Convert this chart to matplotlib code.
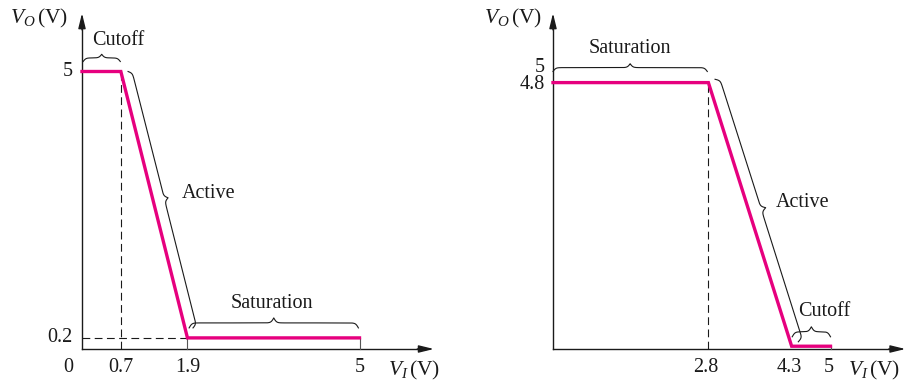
import numpy as np
import matplotlib
matplotlib.use("Agg")
import matplotlib.pyplot as plt

plt.rcParams["font.family"] = ["Liberation Serif", "DejaVu Serif"]
plt.rcParams["mathtext.fontset"] = "custom"
plt.rcParams["mathtext.rm"] = "Liberation Serif"
plt.rcParams["mathtext.it"] = "Liberation Serif:italic"

# Transfer characteristics (V_I, V_O) for the two inverters
npn_vi = [0.0, 0.7, 1.9, 5.0]
npn_vo = [5.0, 5.0, 0.2, 0.2]
npn_xticks = ["0", "0.7", "1.9", "5"]
npn_yticks = ["5", "0.2"]

pnp_vi = [0.0, 2.8, 4.3, 5.0]
pnp_vo = [4.8, 4.8, 0.05, 0.05]
pnp_xticks = ["2.8", "4.3", "5"]
pnp_yticks = ["5", "4.8"]

PINK = "#E6007E"
INK = "#1a1a1a"
FS = 14.5
FS_AX = 15.5

W, H, DPI = 911, 384, 100
fig = plt.figure(figsize=(W / DPI, H / DPI), dpi=DPI)

SCALE = 55.5          # pixels per volt
X_AXIS_PX = 349       # row of the horizontal axis (from top)


def make_axes(left_px, width_px, origin_px):
    ax = fig.add_axes([left_px / W, 0, width_px / W, 1])
    x0 = -(origin_px - left_px) / SCALE
    ax.set_xlim(x0, x0 + width_px / SCALE)
    y0 = -(H - X_AXIS_PX) / SCALE
    ax.set_ylim(y0, y0 + H / SCALE)
    ax.axis("off")
    return ax


def draw_axes(ax, xmax, ymax):
    ax.plot([0, xmax - 0.15], [0, 0], color=INK, lw=1.0)
    ax.plot([0, 0], [0, ymax - 0.15], color=INK, lw=1.0)
    arrow = dict(arrowstyle="-|>,head_length=0.9,head_width=0.22",
                 color=INK, lw=1.0, shrinkA=0, shrinkB=0)
    ax.annotate("", xy=(xmax, 0), xytext=(xmax - 0.3, 0), arrowprops=arrow)
    ax.annotate("", xy=(0, ymax), xytext=(0, ymax - 0.3), arrowprops=arrow)


def brace(ax, p1, p2, w, s=0.025, side=1):
    """Curly brace from p1 to p2 bulging by w on the given side."""
    p1 = np.asarray(p1, float)
    p2 = np.asarray(p2, float)
    d = p2 - p1
    L = np.hypot(*d)
    u = d / L
    n = np.array([-u[1], u[0]]) * side
    half = L / 2
    t = np.linspace(0, half, 300)
    y = (w / 2) * (2 / (1 + np.exp(-t / s)) - 1) \
        + (w / 2) * 2 / (1 + np.exp(-(t - half) / s))
    tt = np.concatenate([t, L - t[::-1]])
    yy = np.concatenate([y, y[::-1]])
    pts = p1[None, :] + tt[:, None] * u[None, :] + yy[:, None] * n[None, :]
    ax.plot(pts[:, 0], pts[:, 1], color=INK, lw=0.8)


dash = (0, (7, 4))

# ---------------- left: npn inverter ----------------
axL = make_axes(0, 455.5, 82)
draw_axes(axL, 6.34, 6.05)
axL.plot([npn_vi[1]] * 2, [0, npn_vo[1]], color=INK, lw=0.8, ls=dash)
axL.plot([0, npn_vi[2]], [npn_vo[2]] * 2, color=INK, lw=0.8, ls=dash)
axL.plot([npn_vi[2]] * 2, [0, npn_vo[2]], color="#555555", lw=0.8)
axL.plot([npn_vi[3]] * 2, [0, npn_vo[3]], color="#555555", lw=0.8)
axL.plot(npn_vi, npn_vo, color=PINK, lw=2.4, solid_joinstyle="miter")

xt_y = -0.33
axL.text(-0.25, xt_y, npn_xticks[0], ha="center", va="center", fontsize=FS, color=INK)
for v, lab in zip(npn_vi[1:], npn_xticks[1:]):
    axL.text(v, xt_y, lab, ha="center", va="center", fontsize=FS, color=INK)
axL.text(-0.17, npn_vo[0], npn_yticks[0], ha="right", va="center", fontsize=FS, color=INK)
axL.text(-0.17, npn_vo[2], npn_yticks[1], ha="right", va="center", fontsize=FS, color=INK)
axL.text(-0.25, 5.95, r"$V_O\,$(V)", ha="right", va="center", fontsize=FS_AX, color=INK)
axL.text(5.52, -0.38, r"$V_I\,$(V)", ha="left", va="center", fontsize=FS_AX, color=INK)

brace(axL, (0.02, 5.18), (0.69, 5.18), 0.13, side=1)
brace(axL, (0.83, 5.0), (2.0, 0.38), 0.14, side=1)
brace(axL, (1.93, 0.38), (4.98, 0.38), 0.18, side=1)
axL.text(0.65, 5.56, "Cutoff", ha="center", va="center", fontsize=FS, color=INK)
axL.text(2.28, 2.80, "Active", ha="center", va="center", fontsize=FS, color=INK)
axL.text(3.43, 0.82, "Saturation", ha="center", va="center", fontsize=FS, color=INK)

# ---------------- right: pnp inverter ----------------
axR = make_axes(455.5, 455.5, 553)
draw_axes(axR, 6.35, 6.05)
axR.plot([pnp_vi[1]] * 2, [0, pnp_vo[1]], color=INK, lw=0.8, ls=dash)
axR.plot([pnp_vi[3]] * 2, [0, pnp_vo[3]], color="#555555", lw=0.8)
axR.plot(pnp_vi, pnp_vo, color=PINK, lw=2.4, solid_joinstyle="miter")

for v, lab in zip(pnp_vi[1:], pnp_xticks):
    axR.text(v - 0.04, xt_y, lab, ha="center", va="center", fontsize=FS, color=INK)
axR.text(-0.15, 5.08, pnp_yticks[0], ha="right", va="center", fontsize=FS, color=INK)
axR.text(-0.15, pnp_vo[0] - 0.03, pnp_yticks[1], ha="right", va="center", fontsize=FS, color=INK)
axR.text(-0.2, 5.95, r"$V_O\,$(V)", ha="right", va="center", fontsize=FS_AX, color=INK)
axR.text(5.32, -0.38, r"$V_I\,$(V)", ha="left", va="center", fontsize=FS_AX, color=INK)

brace(axR, (0.0, 5.0), (2.78, 5.0), 0.14, side=1)
brace(axR, (2.92, 4.86), (4.42, 0.13), 0.17, side=1)
brace(axR, (4.31, 0.22), (5.0, 0.22), 0.18, side=1)
axR.text(1.39, 5.41, "Saturation", ha="center", va="center", fontsize=FS, color=INK)
axR.text(4.49, 2.64, "Active", ha="center", va="center", fontsize=FS, color=INK)
axR.text(4.89, 0.67, "Cutoff", ha="center", va="center", fontsize=FS, color=INK)

fig.savefig("out.png", dpi=DPI, facecolor="white")
